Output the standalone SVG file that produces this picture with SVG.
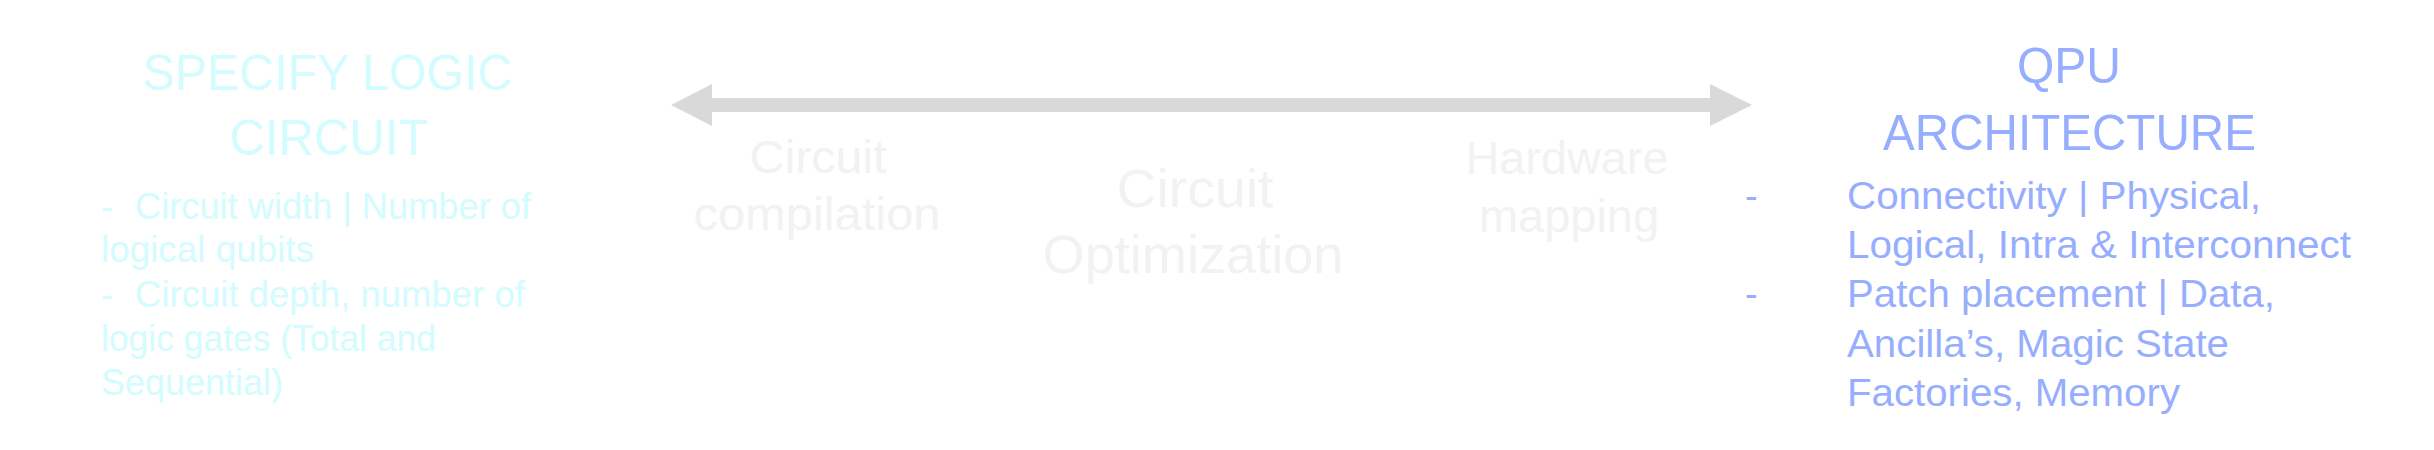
<svg xmlns="http://www.w3.org/2000/svg" width="2434" height="450" viewBox="0 0 2434 450">
<style>
text{font-family:"Liberation Sans",Arial,sans-serif}
.lh{fill:#D3FCFF;font-size:50px;text-anchor:middle}
.lb{fill:#D3FCFF;font-size:36px}
.mid{fill:#F2F2F2;font-size:47px;text-anchor:middle}
.midc{fill:#F2F2F2;font-size:54px;text-anchor:middle}
.rh{fill:#97AEFF;font-size:50px;text-anchor:middle}
.rb{fill:#97AEFF;font-size:38px}
.conn{fill:#D9D9D9}
</style>
<rect width="2434" height="450" fill="#FFFFFF"/>
<g id="connectors">
<polygon class="conn" points="671,105 712,84 712,98 1710,98 1710,84 1752,105 1710,126 1710,112 712,112 712,126"/>
</g>
<g id="specify-logic-circuit">
<text class="lh" x="327.5" y="90" textLength="370" lengthAdjust="spacingAndGlyphs">SPECIFY LOGIC</text>
<text class="lh" x="329" y="155" textLength="199" lengthAdjust="spacingAndGlyphs">CIRCUIT</text>
<text class="lb" x="101" y="219">-</text>
<text class="lb" x="135" y="219" textLength="396" lengthAdjust="spacingAndGlyphs">Circuit width | Number of</text>
<text class="lb" x="101" y="262" textLength="213" lengthAdjust="spacingAndGlyphs">logical qubits</text>
<text class="lb" x="101" y="307">-</text>
<text class="lb" x="135" y="307" textLength="390" lengthAdjust="spacingAndGlyphs">Circuit depth, number of</text>
<text class="lb" x="101" y="351" textLength="335" lengthAdjust="spacingAndGlyphs">logic gates (Total and</text>
<text class="lb" x="101" y="395" textLength="182" lengthAdjust="spacingAndGlyphs">Sequential)</text>
</g>
<g id="circuit-compilation">
<text class="mid" x="818" y="173" textLength="137" lengthAdjust="spacingAndGlyphs">Circuit</text>
<text class="mid" x="817" y="230" textLength="247" lengthAdjust="spacingAndGlyphs">compilation</text>
</g>
<g id="circuit-optimization">
<text class="midc" x="1195" y="207" textLength="157" lengthAdjust="spacingAndGlyphs">Circuit</text>
<text class="midc" x="1193" y="273" textLength="301" lengthAdjust="spacingAndGlyphs">Optimization</text>
</g>
<g id="hardware-mapping">
<text class="mid" x="1567" y="174" textLength="203" lengthAdjust="spacingAndGlyphs">Hardware</text>
<text class="mid" x="1569" y="232" textLength="180" lengthAdjust="spacingAndGlyphs">mapping</text>
</g>
<g id="qpu-architecture">
<text class="rh" x="2069" y="83" textLength="104" lengthAdjust="spacingAndGlyphs">QPU</text>
<text class="rh" x="2069.5" y="150" textLength="373" lengthAdjust="spacingAndGlyphs">ARCHITECTURE</text>
<text class="rb" x="1745" y="209">-</text>
<text class="rb" x="1847" y="209" textLength="414" lengthAdjust="spacingAndGlyphs">Connectivity | Physical,</text>
<text class="rb" x="1847" y="258" textLength="504" lengthAdjust="spacingAndGlyphs">Logical, Intra &amp; Interconnect</text>
<text class="rb" x="1745" y="307">-</text>
<text class="rb" x="1847" y="307" textLength="428" lengthAdjust="spacingAndGlyphs">Patch placement | Data,</text>
<text class="rb" x="1847" y="357" textLength="382" lengthAdjust="spacingAndGlyphs">Ancilla’s, Magic State</text>
<text class="rb" x="1847" y="406" textLength="333" lengthAdjust="spacingAndGlyphs">Factories, Memory</text>
</g>
</svg>
